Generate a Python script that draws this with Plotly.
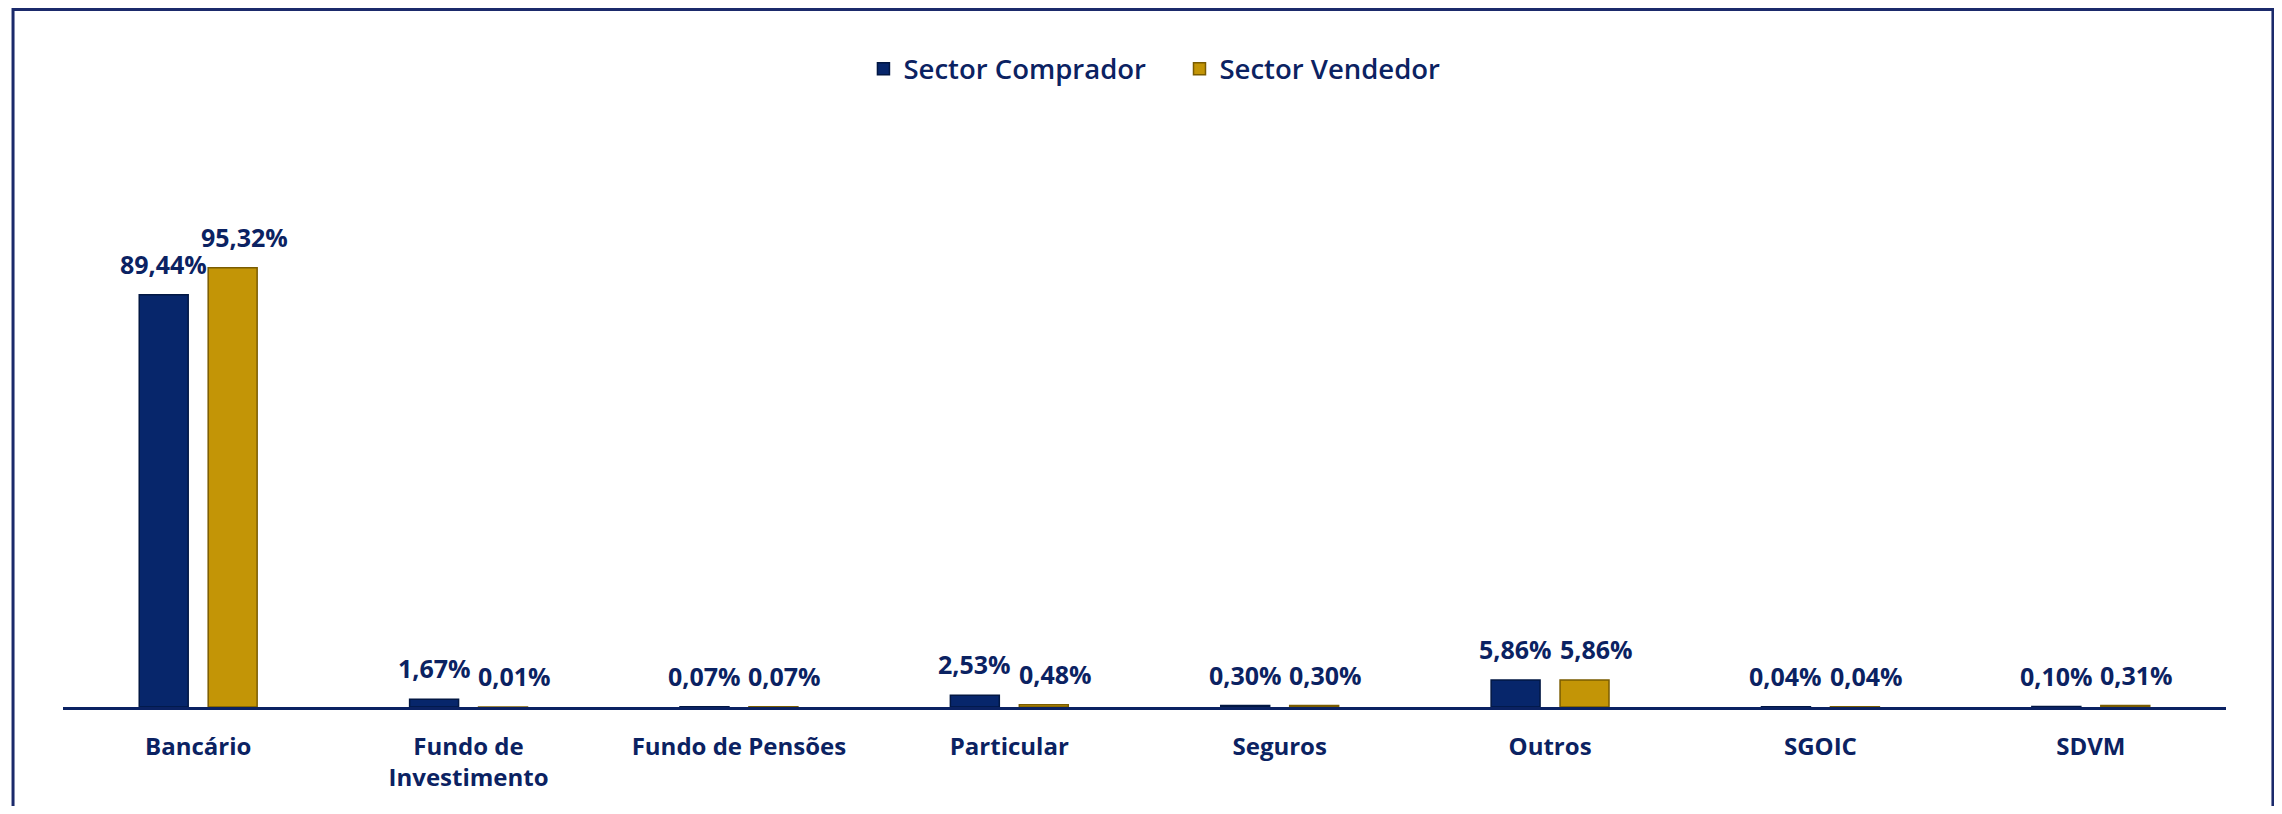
import plotly.graph_objects as go

categories = ["Bancário", "Fundo de<br>Investimento", "Fundo de Pensões", "Particular",
              "Seguros", "Outros", "SGOIC", "SDVM"]
comprador = [89.44, 1.67, 0.07, 2.53, 0.30, 5.86, 0.04, 0.10]
vendedor = [95.32, 0.01, 0.07, 0.48, 0.30, 5.86, 0.04, 0.31]
series_names = ["Sector Comprador", "Sector Vendedor"]

NAVY = "#0b2262"
FONT = "Open Sans"
W, H = 2266, 798

def fmt(v):
    return f"{v:.2f}".replace(".", ",") + "%"

fig = go.Figure()
fig.add_trace(go.Bar(
    name=series_names[0] + "\u00a0\u00a0\u00a0\u00a0", x=categories, y=comprador,
    marker=dict(color="#07266b", line=dict(color="#021743", width=1.5)),
    cliponaxis=False, hoverinfo="x+y",
))
fig.add_trace(go.Bar(
    name=series_names[1], x=categories, y=vendedor,
    marker=dict(color="#c39506", line=dict(color="#7a5c00", width=1.5)),
    cliponaxis=False, hoverinfo="x+y",
))

annotations = []
for vals, shift in ((comprador, -34.5), (vendedor, 46)):
    for c, v in zip(categories, vals):
        annotations.append(dict(
            x=c, y=v, xref="x", yref="y", text=fmt(v), showarrow=False,
            xshift=shift, yshift=31, yanchor="middle", xanchor="center",
            font=dict(family=FONT, size=25, color=NAVY, weight="bold"),
        ))

fig.update_layout(
    width=W, height=H,
    margin=dict(l=55, r=48, t=146, b=99, autoexpand=False),
    paper_bgcolor="white", plot_bgcolor="white",
    barmode="group", bargap=0.49, bargroupgap=0.29,
    separators=",.",
    showlegend=True,
    legend=dict(orientation="h", x=0.5046, xanchor="center", y=1.154, yanchor="middle",
                font=dict(family=FONT, size=27.5, color=NAVY, weight=600),
                itemwidth=30),
    xaxis=dict(showline=True, linecolor=NAVY, linewidth=3, showgrid=False,
               ticks="", ticklabelstandoff=16, automargin=False,
               tickfont=dict(family=FONT, size=24, color=NAVY, weight="bold")),
    yaxis=dict(visible=False, range=[0, 120], showgrid=False, zeroline=False,
               automargin=False),
    annotations=annotations,
    shapes=[dict(type="rect", xref="paper", yref="paper",
                 x0=-0.0231, x1=1.0217, y0=-0.25, y1=1.2613,
                 line=dict(color="#1b2a6b", width=3), fillcolor="rgba(0,0,0,0)",
                 layer="below")],
)

fig.write_html("out.html")
